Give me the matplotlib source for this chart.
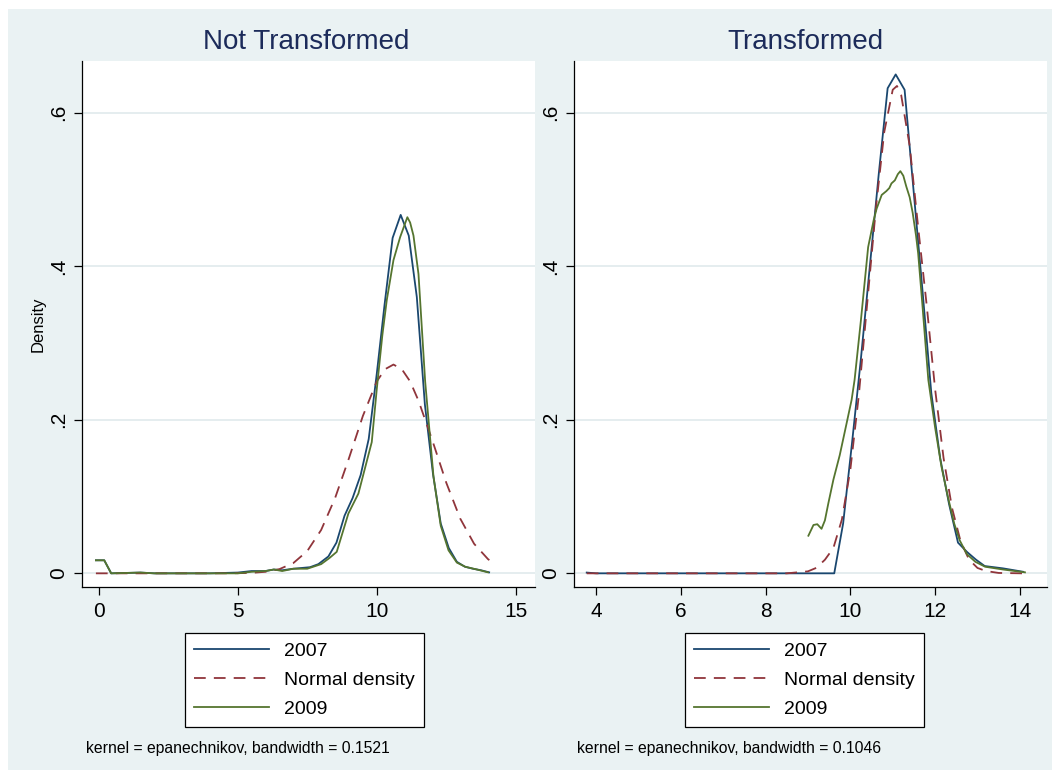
import matplotlib
matplotlib.use("Agg")
import matplotlib.pyplot as plt
from matplotlib.patches import Rectangle

plt.rcParams['font.family'] = ['Liberation Sans', 'DejaVu Sans']

# --- left panel: not transformed ---
nt_x_2007 = [-0.1, 0.2, 0.45, 1.5, 2.0, 4.0, 5.0, 5.5, 6.0, 6.3, 6.6, 7.0, 7.3, 7.6, 7.9,
             8.26, 8.55, 8.84, 9.13, 9.42, 9.71, 10.0, 10.28, 10.57, 10.86, 11.15, 11.44,
             11.73, 12.02, 12.3, 12.59, 12.88, 13.17, 13.46, 13.75, 14.04]
nt_y_2007 = [0.017, 0.017, 0.0, 0.001, 0.0, 0.0, 0.001, 0.003, 0.003, 0.005, 0.004, 0.006, 0.007,
             0.008, 0.012, 0.022, 0.04, 0.075, 0.098, 0.128, 0.175, 0.26, 0.35, 0.437, 0.467,
             0.44, 0.36, 0.22, 0.13, 0.065, 0.033, 0.015, 0.0086, 0.006, 0.004, 0.0013]

nt_x_2009 = [-0.1, 0.2, 0.45, 1.5, 2.0, 4.0, 5.0, 5.5, 6.0, 6.3, 6.6, 7.0, 7.5, 8.0, 8.3,
             8.56, 8.98, 9.34, 9.82, 10.0, 10.2, 10.36, 10.6, 10.84, 11.1, 11.2, 11.32, 11.5,
             11.74, 12.04, 12.3, 12.58, 12.88, 13.18, 13.6, 14.0]
nt_y_2009 = [0.017, 0.017, 0.0, 0.001, 0.0, 0.0, 0.0, 0.002, 0.003, 0.005, 0.003, 0.006, 0.006,
             0.012, 0.02, 0.028, 0.078, 0.104, 0.171, 0.24, 0.31, 0.356, 0.408, 0.438, 0.464,
             0.457, 0.44, 0.39, 0.25, 0.126, 0.062, 0.03, 0.014, 0.0086, 0.005, 0.0013]

nt_x_norm = [-0.1, 4.5, 5.0, 5.5, 6.0, 6.5, 7.0, 7.5, 8.0, 8.5, 9.0, 9.5, 10.0, 10.3, 10.6,
             10.9, 11.2, 11.5, 12.0, 12.5, 13.0, 13.5, 14.0, 14.15]
nt_y_norm = [0.0, 0.0, 0.0002, 0.0006, 0.002, 0.0055, 0.0134, 0.029, 0.0565, 0.098, 0.15,
             0.205, 0.25, 0.266, 0.272, 0.266, 0.25, 0.225, 0.173, 0.118, 0.0714, 0.0385,
             0.0185, 0.0146]

# --- right panel: transformed ---
tr_x_2007 = [3.78, 4.0, 9.62, 9.83, 10.04, 10.25, 10.46, 10.67, 10.88, 11.07, 11.28, 11.49,
             11.7, 11.91, 12.12, 12.33, 12.54, 12.75, 12.96, 13.17, 13.6, 14.08]
tr_y_2007 = [0.001, 0.0, 0.0, 0.065, 0.17, 0.28, 0.40, 0.52, 0.632, 0.650, 0.63, 0.50, 0.37,
             0.235, 0.15, 0.09, 0.04, 0.028, 0.018, 0.0095, 0.0065, 0.002]

tr_x_2009 = [9.01, 9.13, 9.22, 9.32, 9.4, 9.48, 9.6, 9.75, 9.91, 10.03, 10.1, 10.25, 10.42,
             10.55, 10.62, 10.74, 10.85, 10.92, 10.97, 11.05, 11.12, 11.18, 11.25, 11.32, 11.4,
             11.47, 11.55, 11.6, 11.7, 11.84, 12.0, 12.15, 12.3, 12.45, 12.58, 12.75, 12.95,
             13.18, 13.6, 14.12]
tr_y_2009 = [0.049, 0.063, 0.064, 0.058, 0.069, 0.091, 0.122, 0.154, 0.195, 0.226, 0.252,
             0.33, 0.425, 0.46, 0.475, 0.493, 0.498, 0.502, 0.508, 0.512, 0.52, 0.524, 0.518,
             0.504, 0.49, 0.47, 0.44, 0.417, 0.35, 0.252, 0.19, 0.139, 0.1, 0.065, 0.043,
             0.025, 0.015, 0.0086, 0.005, 0.0013]

tr_x_norm = [3.78, 8.5, 9.0, 9.2, 9.4, 9.6, 9.8, 10.0, 10.2, 10.4, 10.6, 10.8, 11.0, 11.1,
             11.2, 11.4, 11.6, 11.8, 12.0, 12.2, 12.4, 12.6, 12.8, 13.0, 13.2, 13.5, 14.05]
tr_y_norm = [0.0, 0.0, 0.0026, 0.0072, 0.0177, 0.033, 0.07, 0.135, 0.232, 0.353, 0.474, 0.575,
             0.63, 0.635, 0.623, 0.557, 0.451, 0.35, 0.24, 0.15, 0.085, 0.042, 0.018, 0.007,
             0.003, 0.0005, 0.0]

labels = ["2007", "Normal density", "2009"]
yticks = [0, 0.2, 0.4, 0.6]
ytick_labels = ["0", ".2", ".4", ".6"]

navy = "#1a476f"
maroon = "#90353b"
green = "#55752f"
bg = "#eaf2f3"
gridc = "#e3ecee"
W, H = 1052, 770

fig = plt.figure(figsize=(W / 100, H / 100), dpi=100, facecolor="white")
fig.patches.append(Rectangle((8 / W, 0), 1, 1 - 9 / H, transform=fig.transFigure,
                             facecolor=bg, edgecolor="none", zorder=-1))

bottom = 1 - 587 / H
height = (587 - 61) / H
ax1 = fig.add_axes([82 / W, bottom, (535 - 82) / W, height])
ax2 = fig.add_axes([574 / W, bottom, (1047 - 574) / W, height])


def style(ax, xlim, xticks):
    ax.set_facecolor("white")
    ax.set_xlim(*xlim)
    ax.set_ylim(-0.0178, 0.6675)
    ax.set_xticks(xticks)
    ax.set_yticks(yticks)
    ax.set_yticklabels(ytick_labels, rotation=90, va="center")
    for s in ["top", "right"]:
        ax.spines[s].set_visible(False)
    for s in ["left", "bottom"]:
        ax.spines[s].set_linewidth(0.9)
        ax.spines[s].set_color("black")
    ax.tick_params(axis="x", length=6, width=0.9, labelsize=15, pad=4.7)
    ax.tick_params(axis="y", length=6, width=0.9, labelsize=15, pad=3.8)
    ax.grid(axis="y", color=gridc, linewidth=1.3)
    ax.set_axisbelow(True)


def draw(ax, x07, y07, xn, yn, x09, y09):
    ax.plot(x07, y07, color=navy, lw=1.3, label=labels[0])
    ax.plot(xn, yn, color=maroon, lw=1.3, linestyle=(0, (6.5, 4.5)), label=labels[1])
    ax.plot(x09, y09, color=green, lw=1.3, label=labels[2])


draw(ax1, nt_x_2007, nt_y_2007, nt_x_norm, nt_y_norm, nt_x_2009, nt_y_2009)
draw(ax2, tr_x_2007, tr_y_2007, tr_x_norm, tr_y_norm, tr_x_2009, tr_y_2009)
style(ax1, (-0.6, 15.69), [0, 5, 10, 15])
style(ax2, (3.48, 14.64), [4, 6, 8, 10, 12, 14])

title_c = "#1c2b5a"
fig.text(306 / W, 1 - 42 / H, "Not Transformed", fontsize=20, color=title_c,
         ha="center", va="center")
fig.text(805 / W, 1 - 42 / H, "Transformed", fontsize=20, color=title_c,
         ha="center", va="center")
fig.text(38 / W, 1 - 324 / H, "Density", fontsize=12, rotation=90, ha="center", va="center")

for ax, cx in [(ax1, 304.5), (ax2, 804.5)]:
    leg = ax.legend(loc="center", bbox_to_anchor=(cx / W, 1 - 680 / H),
                    bbox_transform=fig.transFigure, fontsize=14, frameon=True,
                    fancybox=False, edgecolor="black", framealpha=1, handlelength=3.87,
                    handletextpad=0.77, borderpad=0.46, labelspacing=0.6)
    leg.get_frame().set_linewidth(0.9)

fig.text(86 / W, 1 - 748 / H, "kernel = epanechnikov, bandwidth = 0.1521", fontsize=11.3,
         ha="left", va="center")
fig.text(577 / W, 1 - 748 / H, "kernel = epanechnikov, bandwidth = 0.1046", fontsize=11.3,
         ha="left", va="center")

fig.savefig("out.png", dpi=100, facecolor="white")
